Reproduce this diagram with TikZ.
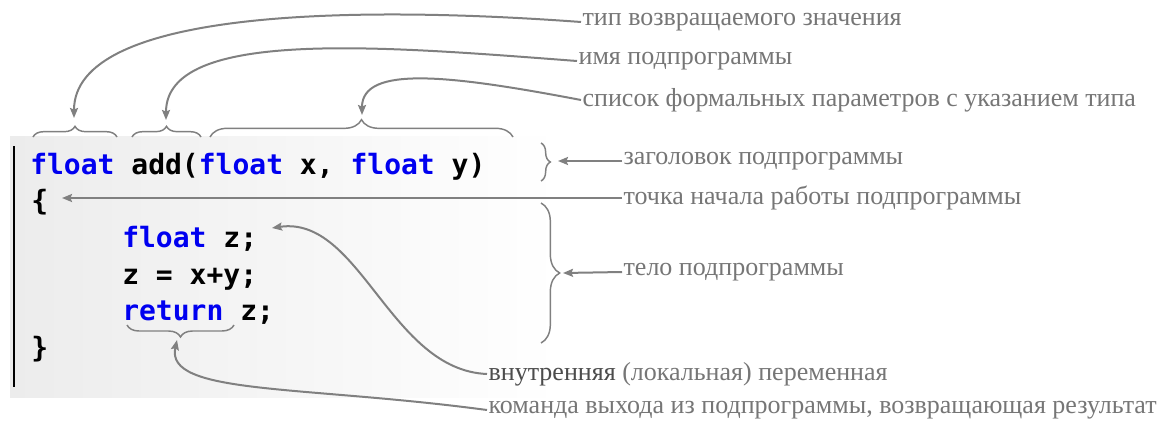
\documentclass[tikz,border=0pt]{standalone}
\usepackage{fontspec}
\setmainfont{Liberation Serif}
\newfontfamily\codefont{DejaVu Sans Mono}
\usetikzlibrary{arrows.meta,decorations.pathreplacing,positioning}

\definecolor{kwBlue}{RGB}{0,0,240}
\definecolor{lineGray}{RGB}{128,128,128}
\definecolor{noteGray}{RGB}{118,118,118}
\definecolor{bgGray}{RGB}{236,236,236}
\newcommand\kwd[1]{\textcolor{kwBlue}{#1}}

\tikzset{
  code/.style={anchor=base west, inner sep=0pt,
    font=\codefont\bfseries\fontsize{21}{25}\selectfont},
  note/.style={anchor=west, inner sep=1pt, text=noteGray,
    font=\fontsize{19.5}{23}\selectfont},
  conn/.style={draw=lineGray, line width=1.5pt, ->},
  brc/.style={draw=lineGray, line width=1.1pt, decorate,
    decoration={brace, amplitude=#1}},
  brc/.default=8pt
}

\begin{document}
\begin{tikzpicture}[x=0.75pt, y=-0.75pt,
    >={Stealth[length=7.5pt,width=6pt,inset=1.2pt]}]
  \useasboundingbox (0,0) rectangle (1162,421);
  % code block
  \shade[left color=bgGray, right color=white] (10,136) rectangle (560,397);
  \draw[line width=2.2pt] (14,146) -- (14,387);
  \node [code] (hdr)   at (30,174)    {\kwd{float} add(\kwd{float} x, \kwd{float} y)};
  \node [code] (open)  at (31,210.7)  {\{};
  \node [code] (decl)  at (122,247.3) {\kwd{float} z;};
  \node [code] (sum)   at (122,284)   {z = x+y;};
  \node [code] (ret)   at (122,320.7) {\kwd{return} z;};
  \node [code] (close) at (31,357.3)  {\}};
  % braces
  \draw [brc]      (33,137)  -- (117,137);
  \draw [brc]      (132,137) -- (201,137);
  \draw [brc=13pt] (210,137) -- (513,137);
  \draw [brc=7pt]  (541,143) -- (541,181);
  \draw [brc=14pt] (541,203) -- (541,343);
  \draw [brc=9pt]  (234,325) -- (127,325);
  % brace tips
  \coordinate (tipType)   at (74,118);
  \coordinate (tipName)   at (166,120);
  \coordinate (tipParams) at (362,115);
  \coordinate (tipHead)   at (558,161);
  \coordinate (tipStart)  at (62,198);
  \coordinate (tipBody)   at (563,273);
  \coordinate (tipLocal)  at (272,228);
  \coordinate (tipReturn) at (177,340);
  % notes
  \node [note] (lblType)   at (581,22)  {тип возвращаемого значения};
  \node [note] (lblName)   at (577,61)  {имя подпрограммы};
  \node [note] (lblParams) at (581,100) {список формальных параметров с указанием типа};
  \node [note] (lblHead)   at (622,161) {заголовок подпрограммы};
  \node [note] (lblStart)  at (622,198) {точка начала работы подпрограммы};
  \node [note] (lblBody)   at (622,272) {тело подпрограммы};
  \node [note] (lblLocal)  at (487,374) {{\color{black!70}внутренняя} (локальная) переменная};
  \node [note] (lblReturn) at (487,410) {команда выхода из подпрограммы, возвращающая результат};
  % connectors
  \draw [conn] (lblType.west)   .. controls (350,5) and (74,10) .. (tipType);
  \draw [conn] (lblName.west)   .. controls (380,46) and (166,28) .. (tipName);
  \draw [conn] (lblParams.west) .. controls (450,75) and (362,65) .. (tipParams);
  \draw [conn] (lblHead.west)   -- (tipHead);
  \draw [conn] (lblStart.west)  -- (tipStart);
  \draw [conn] (lblBody.west)   -- (tipBody);
  \draw [conn] (lblLocal.west)  .. controls (390,370) and (360,215) .. (tipLocal);
  \draw [conn] (lblReturn.west) .. controls (300,385) and (165,395) .. (tipReturn);
\end{tikzpicture}
\end{document}
